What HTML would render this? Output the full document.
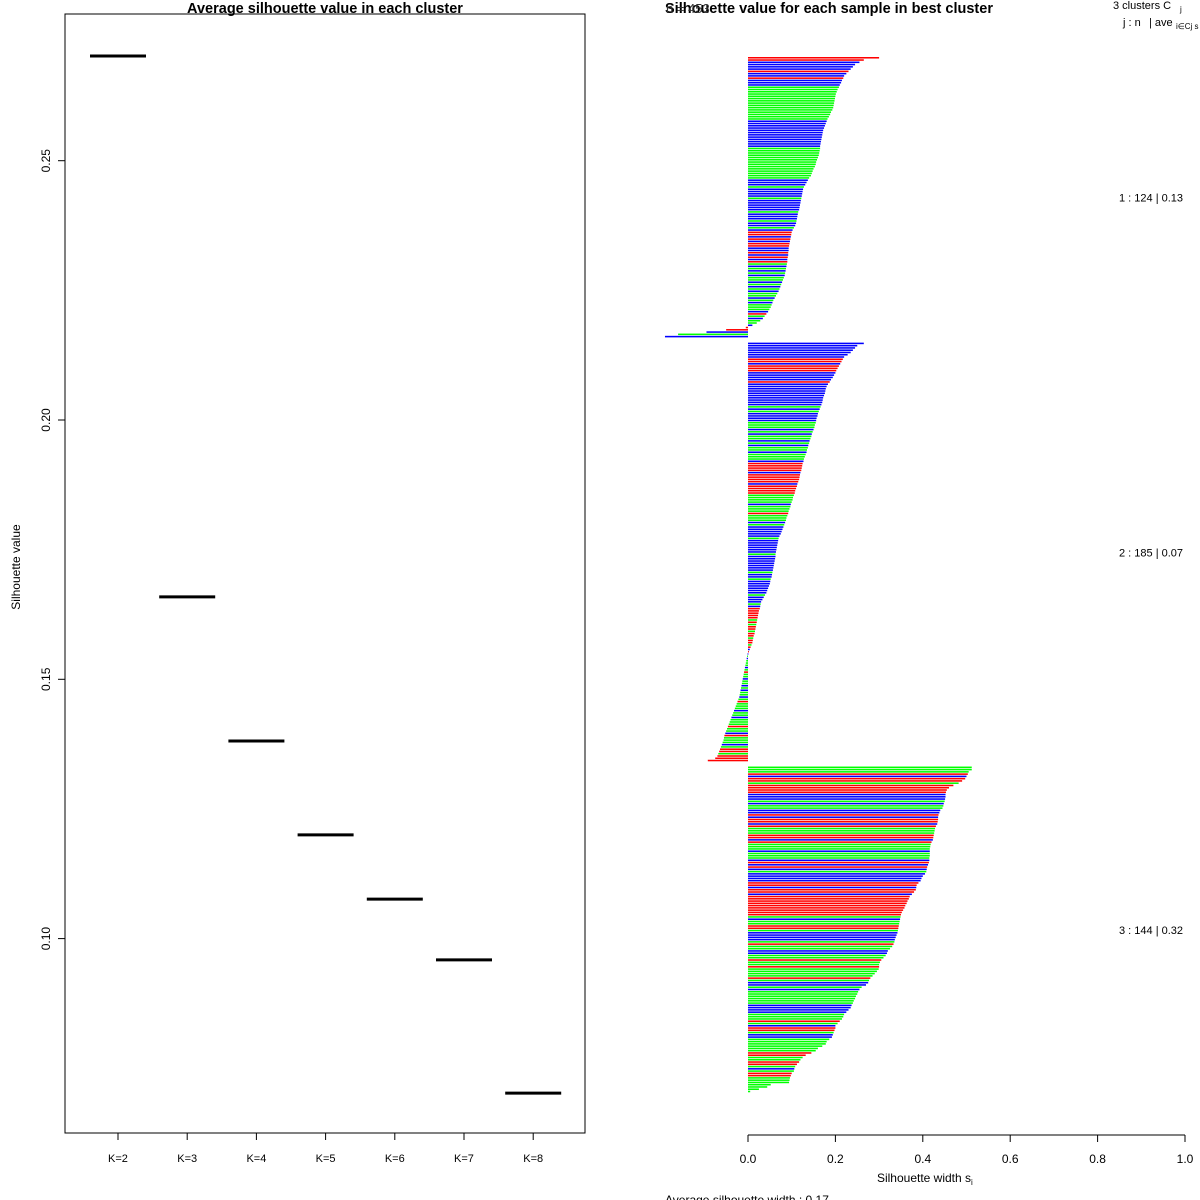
<!DOCTYPE html>
<html><head><meta charset="utf-8">
<style>
html,body{margin:0;padding:0;background:#fff;}
svg{display:block;font-family:"Liberation Sans",Arial,sans-serif;}
</style></head>
<body>
<svg id="chart" width="1200" height="1200" viewBox="0 0 1200 1200">
<g id="left"></g>
<g id="right"></g>
</svg>
<script>
// ---- Left panel data ----
const kLabels = ["K=2","K=3","K=4","K=5","K=6","K=7","K=8"];
const avgSil = [0.2702,0.1659,0.1381,0.1200,0.1076,0.0959,0.0702];
const yTicks = [0.10,0.15,0.20,0.25];
const yTickLabels = ["0.10","0.15","0.20","0.25"];

// ---- Right panel data ----
const clusterSizes = [124,185,144];
const clusterLabels = ["1 :  124  |  0.13","2 :  185  |  0.07","3 :  144  |  0.32"];
const c1Values = [0.30,0.265,0.255,0.245,0.24,0.235,0.23,0.225,0.22,0.218,0.215,0.213,0.21,0.208,0.205,0.203,0.201,0.200,0.199,0.198,0.197,0.196,0.195,0.193,0.19,0.188,0.185,0.182,0.18,0.178,0.176,0.174,0.172,0.171,0.17,0.169,0.168,0.167,0.166,0.165,0.165,0.164,0.163,0.162,0.16,0.158,0.156,0.155,0.153,0.15,0.148,0.146,0.144,0.14,0.137,0.134,0.131,0.128,0.126,0.125,0.124,0.123,0.122,0.121,0.12,0.119,0.118,0.117,0.115,0.114,0.113,0.112,0.111,0.11,0.108,0.105,0.102,0.1,0.099,0.098,0.097,0.096,0.095,0.094,0.093,0.093,0.092,0.092,0.091,0.09,0.09,0.089,0.088,0.087,0.086,0.085,0.084,0.082,0.08,0.078,0.076,0.074,0.072,0.07,0.067,0.064,0.061,0.058,0.056,0.054,0.052,0.049,0.046,0.042,0.038,0.034,0.028,0.02,0.01,-0.005,-0.05,-0.095,-0.16,-0.19];
const c1Colors = "rrbbbbrbbrbbb"+"ggggggggggggggg"+"bbbbbbbbbbbb"+"gggggggggggggg"+"bbbgbbbbgbbbb"+"bgbbbgbbgb"+"rrbrbrrbbrbrb"+"rgbgbgbggbgbgbg"+"gbgbgggbrgbggb"+"rrbgb";
const c2Values = [0.265,0.25,0.245,0.24,0.235,0.228,0.22,0.217,0.214,0.211,0.208,0.205,0.202,0.2,0.197,0.194,0.19,0.187,0.183,0.18,0.178,0.177,0.176,0.174,0.172,0.171,0.17,0.168,0.166,0.164,0.162,0.16,0.159,0.157,0.156,0.155,0.153,0.152,0.15,0.148,0.146,0.145,0.143,0.141,0.14,0.138,0.137,0.135,0.134,0.132,0.13,0.128,0.127,0.125,0.124,0.123,0.122,0.12,0.119,0.118,0.117,0.115,0.113,0.112,0.11,0.108,0.107,0.105,0.103,0.102,0.1,0.098,0.097,0.095,0.093,0.092,0.09,0.088,0.087,0.085,0.083,0.081,0.079,0.077,0.075,0.072,0.07,0.069,0.068,0.067,0.066,0.065,0.064,0.063,0.063,0.062,0.061,0.06,0.059,0.058,0.057,0.056,0.055,0.054,0.052,0.051,0.05,0.048,0.046,0.044,0.042,0.039,0.036,0.033,0.03,0.029,0.028,0.027,0.025,0.024,0.023,0.022,0.021,0.02,0.019,0.018,0.017,0.016,0.015,0.013,0.012,0.011,0.01,0.008,0.006,0.004,0.002,-0.001,-0.002,-0.003,-0.004,-0.005,-0.006,-0.007,-0.008,-0.009,-0.01,-0.011,-0.012,-0.013,-0.014,-0.015,-0.016,-0.017,-0.018,-0.019,-0.02,-0.022,-0.024,-0.026,-0.028,-0.03,-0.032,-0.034,-0.036,-0.038,-0.04,-0.042,-0.044,-0.046,-0.048,-0.05,-0.052,-0.054,-0.055,-0.056,-0.058,-0.06,-0.062,-0.064,-0.066,-0.068,-0.07,-0.075,-0.092];
const c2Colors = "bbbbbbbrrbrrrbbbbrb"+"bbbbbbbbbgbgbbbb"+"gggbgbggbgbggbgggb"+"rrrrbrrrrbrrrr"+"ggggbgggrgggbg"+"bbbbbgbbbbbbgbbbbbbb"+"gbbgbbbbbbgbbbgb"+"rrrrrgrgrrgrrgrrgrbr"+"bgbgggbgrggbggbgbggbgrgggbggbgggrggbrgggbgrrgrrr";
const c3Values = [0.512,0.512,0.505,0.503,0.5,0.497,0.49,0.482,0.47,0.46,0.455,0.453,0.452,0.452,0.451,0.45,0.448,0.447,0.445,0.44,0.438,0.436,0.435,0.435,0.434,0.433,0.43,0.428,0.427,0.426,0.425,0.424,0.423,0.42,0.418,0.417,0.416,0.416,0.416,0.416,0.415,0.415,0.414,0.412,0.41,0.409,0.408,0.405,0.4,0.397,0.395,0.39,0.386,0.385,0.384,0.38,0.375,0.37,0.368,0.365,0.363,0.36,0.358,0.355,0.352,0.35,0.349,0.348,0.347,0.346,0.345,0.344,0.343,0.342,0.34,0.338,0.336,0.335,0.333,0.33,0.325,0.32,0.318,0.315,0.31,0.305,0.302,0.3,0.3,0.299,0.295,0.29,0.285,0.28,0.277,0.275,0.27,0.26,0.255,0.252,0.25,0.247,0.245,0.242,0.24,0.237,0.235,0.23,0.225,0.22,0.218,0.215,0.21,0.205,0.2,0.2,0.198,0.196,0.194,0.192,0.186,0.18,0.178,0.17,0.16,0.155,0.145,0.132,0.125,0.12,0.117,0.112,0.108,0.106,0.105,0.1,0.098,0.096,0.095,0.094,0.052,0.044,0.025,0.005];
const c3Colors = "gggrbrrgrrrrbbbgbggbbrbrrbrgggrrbrgggbgggbrbrbgbbbbrrbrrbrrrrrrrrrgbggrrgbbbbgrggbbggrggrggggrgbbgbggggggbbbbgggrgbrrgbbggggggrrggrrgbgrrgg";
const xTicks = [0,0.2,0.4,0.6,0.8,1.0];
const xTickLabels = ["0.0","0.2","0.4","0.6","0.8","1.0"];

const NS = "http://www.w3.org/2000/svg";
function mk(parent, tag, attrs, text){
  const e = document.createElementNS(NS, tag);
  for (const k in attrs) e.setAttribute(k, attrs[k]);
  if (text !== undefined) e.textContent = text;
  parent.appendChild(e);
  return e;
}
const L = document.getElementById("left");
const R = document.getElementById("right");

// ---- Left panel ----
const box = {x0:65, x1:585, y0:14, y1:1133};
const yScale = v => 420 - (v - 0.20) * (259.3 / 0.05);
const xCat = i => 118 + i * 69.2;

let t = mk(L,"text",{x:325,y:13,"text-anchor":"middle","font-size":"14.5","font-weight":"bold"},"Average silhouette value in each cluster");


let r = mk(L,"rect",{x:box.x0,y:box.y0,width:box.x1-box.x0,height:box.y1-box.y0,fill:"none",stroke:"#000","stroke-width":"1"});


yTicks.forEach((v,i)=>{
  const y = yScale(v);
  const tk = mk(L,"line",{x1:box.x0-7,x2:box.x0,y1:y,y2:y,stroke:"#000"});
  
  
  const lb = mk(L,"text",{x:50,y:y,"text-anchor":"middle","font-size":"12",transform:`rotate(-90 50 ${y})`},yTickLabels[i]);
  
  
});
t = mk(L,"text",{x:20,y:567,"text-anchor":"middle","font-size":"12",transform:"rotate(-90 20 567)"},"Silhouette value");


kLabels.forEach((k,i)=>{
  const x = xCat(i);
  const tk = mk(L,"line",{x1:x,x2:x,y1:box.y1,y2:box.y1+7,stroke:"#000"});
  
  
  const lb = mk(L,"text",{x:x,y:1162,"text-anchor":"middle","font-size":"11"},k);
  
  
  const seg = mk(L,"line",{x1:x-28,x2:x+28,y1:yScale(avgSil[i]),y2:yScale(avgSil[i]),stroke:"#000","stroke-width":"3"});
  
  
});

// ---- Right panel ----
const x0px = 748, unitPx = 437;
const xs = v => x0px + v * unitPx;
const barTop = 57, barBottom = 1093;
const totalUnits = clusterSizes.reduce((a,b)=>a+b,0) + 2*(clusterSizes.length-1);
const step = (barBottom - barTop) / totalUnits;
const colMap = {r:"#ff0000", g:"#00ff00", b:"#0000ff"};
const allVals = [c1Values, c2Values, c3Values];
const allCols = [c1Colors, c2Colors, c3Colors];
let pos = 0;
allVals.forEach((vals,ci)=>{
  const startPos = pos;
  vals.forEach((v,i)=>{
    const y = barTop + pos*step;
    const xa = Math.min(xs(0), xs(v)), xb = Math.max(xs(0), xs(v));
    const b = mk(R,"rect",{x:xa,y:y,width:Math.max(xb-xa,0.8),height:step*0.68,fill:colMap[allCols[ci][i]]||"#00ff00"});
    
    
    pos++;
  });
  const mid = barTop + (startPos + vals.length/2)*step;
  const lb = mk(R,"text",{x:1119,y:mid+4,"font-size":"11"},clusterLabels[ci]);
  
  
  pos += 2;
});
t = mk(R,"text",{x:665,y:13,"font-size":"14.5","font-weight":"bold"},"Silhouette value for each sample in best cluster");


t = mk(R,"text",{x:666,y:13,"font-size":"13",fill:"#333"},"n = 453");


t = mk(R,"text",{x:1113,y:9,"font-size":"11"},"3  clusters  C");


t = mk(R,"text",{x:1180,y:12,"font-size":"8"},"j");


t = mk(R,"text",{x:1123,y:26,"font-size":"11"},"j :  n");


t = mk(R,"text",{x:1149,y:26,"font-size":"11"},"| ave");


t = mk(R,"text",{x:1176,y:29,"font-size":"8"},"i∈Cj  s");


let ax = mk(R,"line",{x1:xs(0),x2:xs(1),y1:1135,y2:1135,stroke:"#000"});


xTicks.forEach((v,i)=>{
  const x = xs(v);
  const tk = mk(R,"line",{x1:x,x2:x,y1:1135,y2:1142,stroke:"#000"});
  
  
  const lb = mk(R,"text",{x:x,y:1163,"text-anchor":"middle","font-size":"12"},xTickLabels[i]);
  
  
});
t = mk(R,"text",{x:924,y:1182,"text-anchor":"middle","font-size":"12"},"Silhouette width s");


t = mk(R,"text",{x:971,y:1185,"font-size":"8"},"i");


t = mk(R,"text",{x:665,y:1204,"font-size":"12"},"Average silhouette width :  0.17");


</script>
</body></html>
